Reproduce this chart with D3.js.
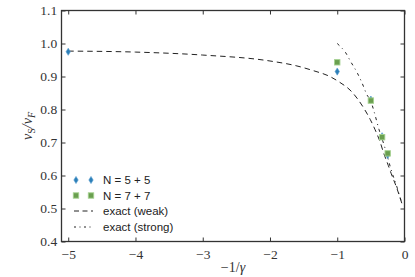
<!DOCTYPE html>
<html><head><meta charset="utf-8">
<script src="https://cdn.jsdelivr.net/npm/d3@7"></script>
<style>body{margin:0;background:#fff}svg{display:block}</style>
</head><body><svg id="c" width="415" height="277"></svg>
<script>
const xTicks = [-5, -4, -3, -2, -1, 0];
const yTicks = [0.4, 0.5, 0.6, 0.7, 0.8, 0.9, 1.0, 1.1];
const n5x = [-5, -1, -0.5, -0.333, -0.25];
const n5y = [0.975, 0.915, 0.83, 0.719, 0.662];
const n7x = [-1, -0.5, -0.333, -0.25];
const n7y = [0.943, 0.827, 0.716, 0.667];
const weakX = [-5, -4, -3, -2, -1.6, -1.36, -1.11, -0.96, -0.81, -0.69, -0.59, -0.51, -0.44, -0.36, -0.31, -0.24, -0.2, -0.12, -0.04];
const weakY = [0.977, 0.974, 0.965, 0.947, 0.932, 0.918, 0.9, 0.882, 0.859, 0.83, 0.799, 0.77, 0.74, 0.7, 0.668, 0.63, 0.607, 0.565, 0.516];
const strongX = [-1, -0.95, -0.884, -0.8, -0.7, -0.6, -0.57, -0.5, -0.45, -0.38, -0.3, -0.25, -0.2, -0.12, -0.04];
const strongY = [1.0, 0.99, 0.975, 0.945, 0.91, 0.865, 0.849, 0.825, 0.792, 0.74, 0.69, 0.655, 0.618, 0.57, 0.516];
const legendLabels = ["N = 5 + 5", "N = 7 + 7", "exact (weak)", "exact (strong)"];

const svg = d3.select("#c");
const L = 61.5, R = 404.5, T = 10.5, B = 241.5;
const x = d3.scaleLinear().domain([-5.1, 0]).range([L, R]);
const y = d3.scaleLinear().domain([0.4, 1.1]).range([B, T]);
const serif = "'Liberation Serif', 'DejaVu Serif', serif";
const sans = "'Liberation Sans', Arial, sans-serif";
const blue = "#2c7fb8", green = "#6a9f4f";

const line = d3.line().x(d => x(d[0])).y(d => y(d[1])).curve(d3.curveMonotoneX);
svg.append("clipPath").attr("id", "pc").append("rect")
  .attr("x", L).attr("y", T).attr("width", R - L).attr("height", B - T);
const g = svg.append("g").attr("clip-path", "url(#pc)");
g.append("path").attr("d", line(weakX.map((v, i) => [v, weakY[i]])))
  .attr("fill", "none").attr("stroke", "#222").attr("stroke-width", 1)
  .attr("stroke-dasharray", "5.5,4");
g.append("path").attr("d", line(strongX.map((v, i) => [v, strongY[i]])))
  .attr("fill", "none").attr("stroke", "#222").attr("stroke-width", 1)
  .attr("stroke-dasharray", "3,4,1,4");

function diamond(sel, cx, cy) {
  sel.append("path").attr("d", `M${cx},${cy-3.6}L${cx+2.2},${cy}L${cx},${cy+3.6}L${cx-2.2},${cy}Z`)
    .attr("fill", blue).attr("stroke", "#5aa0d0").attr("stroke-width", 0.6);
}
function square(sel, cx, cy) {
  sel.append("rect").attr("x", cx - 2.7).attr("y", cy - 2.7).attr("width", 5.4).attr("height", 5.4)
    .attr("fill", green).attr("stroke", "#a5d190").attr("stroke-width", 0.9);
}
n5x.forEach((v, i) => diamond(svg, x(v), y(n5y[i])));
n7x.forEach((v, i) => square(svg, x(v), y(n7y[i])));

svg.append("rect").attr("x", L).attr("y", T).attr("width", R - L).attr("height", B - T)
  .attr("fill", "none").attr("stroke", "#333").attr("stroke-width", 1.3);

const xb = svg.append("g").attr("transform", `translate(0,${B})`)
  .call(d3.axisBottom(x).tickValues(xTicks).tickSizeInner(-4).tickSizeOuter(0)
    .tickFormat(d => d === 0 ? "0" : "\u2212" + Math.abs(d)));
const xt = svg.append("g").attr("transform", `translate(0,${T})`)
  .call(d3.axisTop(x).tickValues(xTicks).tickSizeInner(-4).tickSizeOuter(0).tickFormat(""));
const yl = svg.append("g").attr("transform", `translate(${L},0)`)
  .call(d3.axisLeft(y).tickValues(yTicks).tickSizeInner(-4).tickSizeOuter(0).tickFormat(d3.format(".1f")));
const yr = svg.append("g").attr("transform", `translate(${R},0)`)
  .call(d3.axisRight(y).tickValues(yTicks).tickSizeInner(-4).tickSizeOuter(0).tickFormat(""));
[xb, xt, yl, yr].forEach(a => {
  a.select(".domain").remove();
  a.selectAll(".tick line").attr("stroke", "#333");
  a.selectAll("text").attr("font-family", serif).attr("font-size", 13.5).attr("fill", "#333");
});
xb.selectAll("text").attr("dy", "1.05em");
yl.selectAll("text").attr("dx", "-0.1em");

svg.append("text").attr("x", 233).attr("y", 272).attr("text-anchor", "middle")
  .attr("font-family", serif).attr("font-size", 14).attr("fill", "#333")
  .html("\u22121/<tspan font-style='italic'>\u03b3</tspan>");
svg.append("text").attr("transform", "translate(32,126) rotate(-90)").attr("text-anchor", "middle")
  .attr("font-family", serif).attr("font-size", 14).attr("fill", "#333").attr("font-style", "italic")
  .html("v<tspan font-size='10' dy='3' font-style='normal'>S</tspan><tspan dy='-3'>/v</tspan><tspan font-size='10' dy='3'>F</tspan>");

const ly = [180, 195.5, 211, 227];
const lg = svg.append("g");
legendLabels.forEach((t, i) => {
  if (i === 0) { diamond(lg, 76, ly[i]); diamond(lg, 91, ly[i]); }
  else if (i === 1) { square(lg, 76, ly[i]); square(lg, 91, ly[i]); }
  else {
    lg.append("line").attr("x1", 74).attr("x2", 93).attr("y1", ly[i]).attr("y2", ly[i])
      .attr("stroke", "#222").attr("stroke-width", 1)
      .attr("stroke-dasharray", i === 2 ? "5,3.5" : "2,3.5,1,3.5");
  }
  lg.append("text").attr("x", 103).attr("y", ly[i] + 4).attr("font-family", sans)
    .attr("font-size", 11.5).attr("fill", "#222").text(t);
});
</script></body></html>
